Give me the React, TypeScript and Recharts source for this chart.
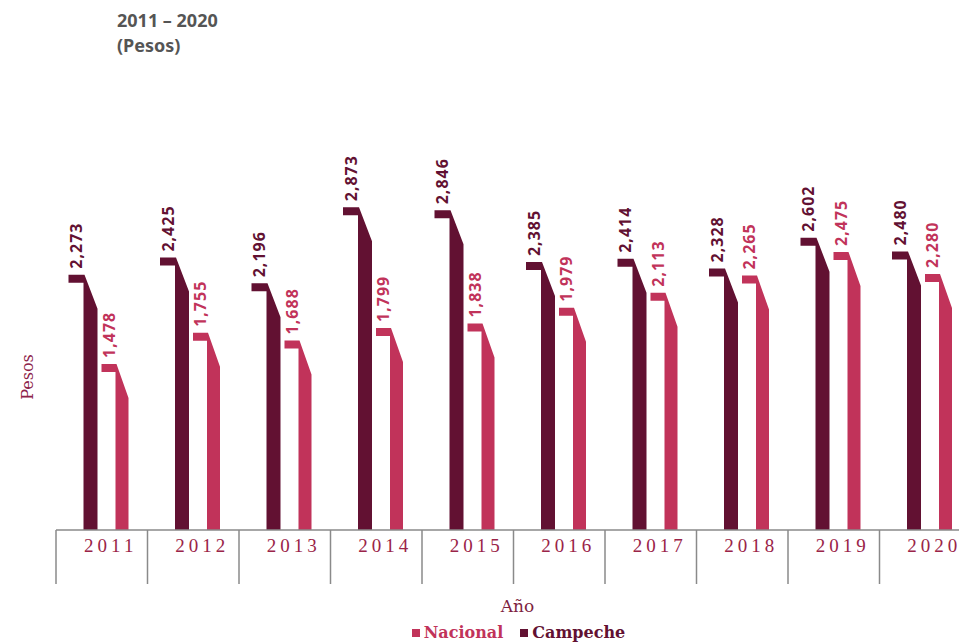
import { BarChart, Bar, XAxis, YAxis, Label } from "recharts";

const years = ["2011", "2012", "2013", "2014", "2015", "2016", "2017", "2018", "2019", "2020"];
const campeche = [2273, 2425, 2196, 2873, 2846, 2385, 2414, 2328, 2602, 2480];
const nacional = [1478, 1755, 1688, 1799, 1838, 1979, 2113, 2265, 2475, 2280];

const CAMPECHE = "#621132";
const NACIONAL = "#c1335a";
const AXIS_TEXT = "#9a2448";

const W = 980;
const H = 635;
const MARGIN = { top: 185, right: 17, bottom: 53, left: 0 };
const Y_WIDTH = 48;
const PLOT_W = W - MARGIN.left - MARGIN.right - Y_WIDTH;
const BAND = PLOT_W / years.length;
const SHIFT = -3.5; // bars sit a bit left of band centre in the original

const data = years.map((year, i) => ({
  year,
  Campeche: campeche[i],
  Nacional: nacional[i],
}));

const fmt = (v: number) => v.toLocaleString("en-US");

// bar drawn as a small flag: cap on the left, slanted shoulder, narrow body
const FlagBar = (props: any) => {
  const { y, width, height, fill } = props;
  if (!height || height <= 0) return null;
  const x = props.x + SHIFT;
  const cw = Math.round(width * 0.52);
  const drop = Math.min(34, height);
  const d = `M${x},${y} H${x + cw + 1} L${x + width},${y + drop} V${y + height} H${x + cw} V${y + 8} H${x} Z`;
  return <path d={d} fill={fill} />;
};

const valueLabel = (color: string) => (props: any) => {
  const { x, y, width, value } = props;
  const cw = Math.round(width * 0.52);
  const cx = x + SHIFT + cw / 2;
  return (
    <text
      transform={`translate(${cx},${y - 6}) rotate(-90)`}
      dominantBaseline="central"
      fill={color}
      fontFamily="'Noto Sans', sans-serif"
      fontWeight={700}
      fontSize={16}
      letterSpacing={1}
    >
      {fmt(value)}
    </text>
  );
};

const YearTick = (props: any) => {
  const { x, y, payload } = props;
  const left = x - BAND / 2;
  return (
    <g>
      <line x1={left} y1={y} x2={left} y2={y + 54} stroke="#8a8a8a" strokeWidth={1.5} />
      <text
        x={x + 9}
        y={y + 22}
        textAnchor="middle"
        fill={AXIS_TEXT}
        fontFamily="'Liberation Serif', serif"
        fontSize={19}
        letterSpacing={4}
      >
        {payload.value}
      </text>
    </g>
  );
};

const Swatch = ({ color }: { color: string }) => (
  <span
    style={{
      display: "inline-block",
      width: 8,
      height: 8,
      background: color,
      marginRight: 4,
      verticalAlign: "1px",
    }}
  />
);

export default function App() {
  return (
    <div style={{ position: "relative", width: 959, height: H, overflow: "hidden" }}>
      <div
        style={{
          position: "absolute",
          top: 0,
          left: 109,
          fontFamily: "'Noto Sans', sans-serif",
          fontWeight: 700,
          fontSize: 18,
          lineHeight: "25px",
          color: "#555555",
          zIndex: 1,
        }}
      >
        <div>2011 – 2020</div>
        <div>(Pesos)</div>
      </div>
      <BarChart width={W} height={H} data={data} margin={MARGIN} barGap={4}>
        <XAxis
          dataKey="year"
          height={60}
          tickSize={0}
          tickMargin={0}
          tickLine={false}
          axisLine={{ stroke: "#8a8a8a", strokeWidth: 1.5 }}
          tick={<YearTick />}
          interval={0}
        >
          <Label
            content={(p: any) => (
              <text
                x={p.viewBox.x + p.viewBox.width / 2 + 4}
                y={p.viewBox.y + 82}
                textAnchor="middle"
                fill="#7e1f40"
                fontFamily="'DejaVu Serif', serif"
                fontSize={17}
              >
                Año
              </text>
            )}
          />
        </XAxis>
        <YAxis
          width={Y_WIDTH}
          domain={[0, 3000]}
          axisLine={false}
          tickLine={false}
          tick={false}
        >
          <Label
            content={() => (
              <text
                transform="translate(25,369) rotate(-90)"
                textAnchor="middle"
                fill="#8c2249"
                fontFamily="'DejaVu Serif', serif"
                fontSize={16}
              >
                Pesos
              </text>
            )}
          />
        </YAxis>
        <Bar
          dataKey="Campeche"
          fill={CAMPECHE}
          barSize={29}
          shape={<FlagBar />}
          label={valueLabel(CAMPECHE)}
          isAnimationActive={false}
        />
        <Bar
          dataKey="Nacional"
          fill={NACIONAL}
          barSize={27}
          shape={<FlagBar />}
          label={valueLabel(NACIONAL)}
          isAnimationActive={false}
        />
      </BarChart>
      <div
        style={{
          position: "absolute",
          top: 616,
          left: 310,
          width: 401,
          textAlign: "center",
          fontFamily: "'DejaVu Serif', serif",
          fontWeight: 700,
          fontSize: 16,
          lineHeight: "18px",
          whiteSpace: "nowrap",
        }}
      >
        <span style={{ color: NACIONAL }}>
          <Swatch color={NACIONAL} />
          Nacional
        </span>
        <span style={{ color: CAMPECHE, marginLeft: 17 }}>
          <Swatch color={CAMPECHE} />
          Campeche
        </span>
      </div>
    </div>
  );
}
